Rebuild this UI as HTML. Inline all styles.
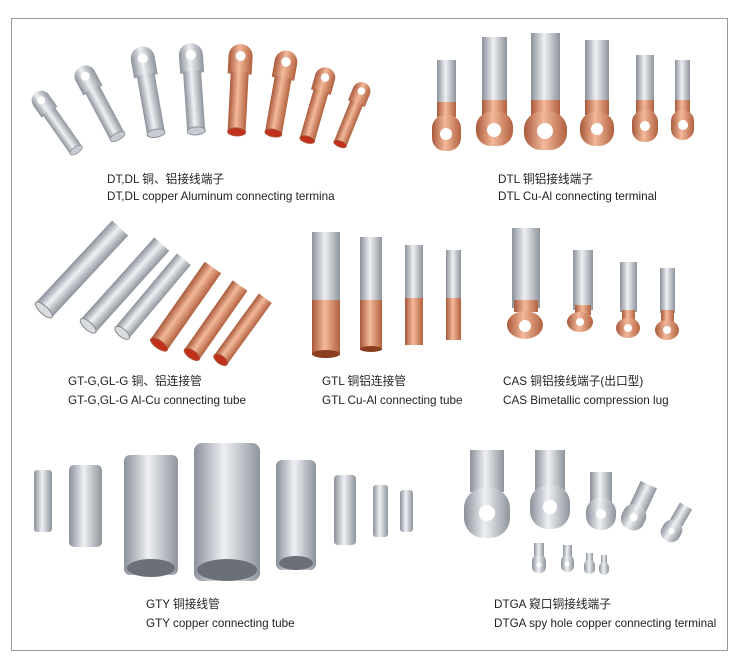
<!DOCTYPE html>
<html><head><meta charset="utf-8"><style>
html,body{margin:0;padding:0;background:#fff;width:739px;height:669px;overflow:hidden}
.t{position:absolute;font-family:"Liberation Sans","Noto Sans CJK SC",sans-serif;font-size:11.7px;color:#222;white-space:nowrap;line-height:14px}
</style></head><body>
<svg width="739" height="669" style="position:absolute;left:0;top:0">
<defs>
<linearGradient id="al" x1="0" x2="1" y1="0" y2="0"><stop offset="0" stop-color="#8b909a"/><stop offset=".45" stop-color="#eef0f3"/><stop offset="1" stop-color="#8e949c"/></linearGradient>
<linearGradient id="cu" x1="0" x2="1" y1="0" y2="0"><stop offset="0" stop-color="#a8583a"/><stop offset=".45" stop-color="#f3b99a"/><stop offset="1" stop-color="#b2613f"/></linearGradient>
<linearGradient id="alv" x1="0" x2="0" y1="0" y2="1"><stop offset="0" stop-color="#8b909a"/><stop offset=".45" stop-color="#eef0f3"/><stop offset="1" stop-color="#8e949c"/></linearGradient>
<linearGradient id="cuv" x1="0" x2="0" y1="0" y2="1"><stop offset="0" stop-color="#a8583a"/><stop offset=".45" stop-color="#f3b99a"/><stop offset="1" stop-color="#b2613f"/></linearGradient>
<g id="lugA"><path d="M-12,-30 a12,12 0 0 1 24,0 v18 h-12 h-12z" fill="url(#al)"/><rect x="-9" y="-14" width="18" height="60" fill="url(#al)"/><ellipse cx="0" cy="46" rx="9" ry="4" fill="#c8ccd2" stroke="#8b909a"/><circle cx="0" cy="-30" r="5" fill="#fff"/></g>
<g id="lugC"><path d="M-12,-30 a12,12 0 0 1 24,0 v18 h-12 h-12z" fill="url(#cu)"/><rect x="-9" y="-14" width="18" height="60" fill="url(#cu)"/><ellipse cx="0" cy="46" rx="9" ry="4" fill="#c0301a" stroke="#a8583a"/><circle cx="0" cy="-30" r="5" fill="#fff"/></g>
</defs>
<rect x="11.5" y="18.5" width="716" height="632" fill="none" stroke="#999"/>
<!-- DT lugs -->
<g transform="translate(55,120) rotate(-35) scale(.8)"><use href="#lugA"/></g>
<g transform="translate(98,100) rotate(-28) scale(.9)"><use href="#lugA"/></g>
<g transform="translate(148,88) rotate(-10) scale(1)"><use href="#lugA"/></g>
<g transform="translate(193,85) rotate(-4) scale(1)"><use href="#lugA"/></g>
<g transform="translate(239,86) rotate(3) scale(1)"><use href="#lugC"/></g>
<g transform="translate(281,90) rotate(10) scale(.95)"><use href="#lugC"/></g>
<g transform="translate(318,102) rotate(16) scale(.85)"><use href="#lugC"/></g>
<g transform="translate(353,112) rotate(22) scale(.75)"><use href="#lugC"/></g>
<!-- DTL -->
<g>
<rect x="437" y="60" width="19" height="45" fill="url(#al)"/><rect x="437" y="102" width="19" height="15" fill="url(#cu)"/><rect x="432" y="115" width="29" height="36" rx="13" fill="url(#cu)"/><circle cx="446" cy="134" r="6" fill="#fff"/>
<rect x="482" y="37" width="25" height="65" fill="url(#al)"/><rect x="482" y="100" width="25" height="15" fill="url(#cu)"/><rect x="476" y="112" width="37" height="34" rx="15" fill="url(#cu)"/><circle cx="494" cy="130" r="7" fill="#fff"/>
<rect x="531" y="33" width="29" height="70" fill="url(#al)"/><rect x="531" y="100" width="29" height="15" fill="url(#cu)"/><rect x="524" y="112" width="43" height="38" rx="17" fill="url(#cu)"/><circle cx="545" cy="131" r="8" fill="#fff"/>
<rect x="585" y="40" width="24" height="62" fill="url(#al)"/><rect x="585" y="100" width="24" height="15" fill="url(#cu)"/><rect x="580" y="112" width="34" height="34" rx="15" fill="url(#cu)"/><circle cx="597" cy="129" r="6" fill="#fff"/>
<rect x="636" y="55" width="18" height="48" fill="url(#al)"/><rect x="636" y="100" width="18" height="14" fill="url(#cu)"/><rect x="632" y="110" width="26" height="32" rx="12" fill="url(#cu)"/><circle cx="645" cy="126" r="5" fill="#fff"/>
<rect x="675" y="60" width="15" height="44" fill="url(#al)"/><rect x="675" y="100" width="15" height="14" fill="url(#cu)"/><rect x="671" y="110" width="23" height="30" rx="11" fill="url(#cu)"/><circle cx="683" cy="125" r="5" fill="#fff"/>
</g>
<!-- GT-G tubes (upper-right to lower-left, open end lower-left) -->
<g transform="translate(82,269) rotate(-47)"><rect x="-56" y="-11" width="112" height="22" fill="url(#alv)"/><ellipse cx="-56" cy="0" rx="4" ry="11" fill="#d8dbe0" stroke="#888"/></g>
<g transform="translate(125,285) rotate(-48)"><rect x="-55" y="-10" width="110" height="20" fill="url(#alv)"/><ellipse cx="-55" cy="0" rx="4" ry="10" fill="#d8dbe0" stroke="#888"/></g>
<g transform="translate(153,296) rotate(-50)"><rect x="-48" y="-9" width="96" height="18" fill="url(#alv)"/><ellipse cx="-48" cy="0" rx="4" ry="9" fill="#d8dbe0" stroke="#888"/></g>
<g transform="translate(186,306) rotate(-55)"><rect x="-47" y="-10" width="94" height="20" fill="url(#cuv)"/><ellipse cx="-47" cy="0" rx="4" ry="10" fill="#c0301a" stroke="#a8583a"/></g>
<g transform="translate(216,320) rotate(-55)"><rect x="-42" y="-9" width="84" height="18" fill="url(#cuv)"/><ellipse cx="-42" cy="0" rx="4" ry="9" fill="#c0301a" stroke="#a8583a"/></g>
<g transform="translate(243,329) rotate(-54)"><rect x="-38" y="-8" width="76" height="16" fill="url(#cuv)"/><ellipse cx="-38" cy="0" rx="4" ry="8" fill="#c0301a" stroke="#a8583a"/></g>
<!-- GTL -->
<rect x="312" y="232" width="28" height="70" fill="url(#al)"/><rect x="312" y="300" width="28" height="55" fill="url(#cu)"/><ellipse cx="326" cy="354" rx="14" ry="4" fill="#8a4020"/>
<rect x="360" y="237" width="22" height="65" fill="url(#al)"/><rect x="360" y="300" width="22" height="50" fill="url(#cu)"/><ellipse cx="371" cy="349" rx="11" ry="3" fill="#8a4020"/>
<rect x="405" y="245" width="18" height="55" fill="url(#al)"/><rect x="405" y="298" width="18" height="47" fill="url(#cu)"/>
<rect x="446" y="250" width="15" height="50" fill="url(#al)"/><rect x="446" y="298" width="15" height="42" fill="url(#cu)"/>
<!-- CAS -->
<rect x="512" y="228" width="28" height="80" fill="url(#al)"/><rect x="514" y="300" width="24" height="12" fill="url(#cu)"/><ellipse cx="525" cy="325" rx="18" ry="14" fill="url(#cu)"/><circle cx="525" cy="326" r="6" fill="#fff"/>
<rect x="573" y="250" width="20" height="60" fill="url(#al)"/><rect x="575" y="305" width="16" height="10" fill="url(#cu)"/><ellipse cx="580" cy="322" rx="13" ry="10" fill="url(#cu)"/><circle cx="580" cy="322" r="4" fill="#fff"/>
<rect x="620" y="262" width="17" height="50" fill="url(#al)"/><rect x="622" y="310" width="13" height="10" fill="url(#cu)"/><ellipse cx="628" cy="328" rx="12" ry="10" fill="url(#cu)"/><circle cx="628" cy="328" r="4" fill="#fff"/>
<rect x="660" y="268" width="15" height="45" fill="url(#al)"/><rect x="661" y="310" width="13" height="12" fill="url(#cu)"/><ellipse cx="667" cy="330" rx="12" ry="10" fill="url(#cu)"/><circle cx="667" cy="330" r="4" fill="#fff"/>
<!-- GTY -->
<rect x="34" y="470" width="18" height="62" rx="3" fill="url(#al)"/>
<rect x="69" y="465" width="33" height="82" rx="5" fill="url(#al)"/>
<rect x="124" y="455" width="54" height="120" rx="6" fill="url(#al)"/><ellipse cx="151" cy="568" rx="24" ry="9" fill="#6a6f78"/>
<rect x="194" y="443" width="66" height="138" rx="8" fill="url(#al)"/><ellipse cx="227" cy="570" rx="30" ry="11" fill="#6a6f78"/>
<rect x="276" y="460" width="40" height="110" rx="6" fill="url(#al)"/><ellipse cx="296" cy="563" rx="17" ry="7" fill="#6a6f78"/>
<rect x="334" y="475" width="22" height="70" rx="4" fill="url(#al)"/>
<rect x="373" y="485" width="15" height="52" rx="3" fill="url(#al)"/>
<rect x="400" y="490" width="13" height="42" rx="3" fill="url(#al)"/>
<!-- DTGA -->
<rect x="470" y="450" width="34" height="42" fill="url(#al)"/><rect x="464" y="488" width="46" height="50" rx="20" fill="url(#al)"/><circle cx="487" cy="513" r="8" fill="#fff"/>
<rect x="535" y="450" width="30" height="40" fill="url(#al)"/><rect x="530" y="485" width="40" height="44" rx="18" fill="url(#al)"/><circle cx="550" cy="507" r="7" fill="#fff"/>
<rect x="590" y="472" width="22" height="30" fill="url(#al)"/><rect x="586" y="498" width="30" height="32" rx="14" fill="url(#al)"/><circle cx="601" cy="514" r="5" fill="#fff"/>
<g transform="translate(637,510) rotate(25)"><rect x="-9" y="-28" width="18" height="26" fill="url(#al)"/><rect x="-12" y="-5" width="24" height="26" rx="11" fill="url(#al)"/><circle cx="0" cy="8" r="4" fill="#fff"/></g>
<g transform="translate(675,525) rotate(30)"><rect x="-7" y="-22" width="14" height="20" fill="url(#al)"/><rect x="-10" y="-4" width="20" height="22" rx="9" fill="url(#al)"/><circle cx="0" cy="7" r="3" fill="#fff"/></g>
<rect x="534" y="543" width="10" height="14" fill="url(#al)"/><rect x="532" y="555" width="14" height="18" rx="6" fill="url(#al)"/><circle cx="539" cy="565" r="2.5" fill="#fff"/>
<rect x="563" y="545" width="9" height="12" fill="url(#al)"/><rect x="561" y="555" width="13" height="17" rx="6" fill="url(#al)"/><circle cx="567" cy="564" r="2.5" fill="#fff"/>
<rect x="586" y="553" width="7" height="10" fill="url(#al)"/><rect x="584" y="560" width="11" height="14" rx="5" fill="url(#al)"/>
<rect x="601" y="555" width="6" height="9" fill="url(#al)"/><rect x="599" y="562" width="10" height="13" rx="5" fill="url(#al)"/>
</svg>
<div class="t" style="left:107px;top:173px">DT,DL 铜、铝接线端子</div>
<div class="t" style="left:107px;top:190px">DT,DL copper Aluminum connecting termina</div>
<div class="t" style="left:498px;top:173px">DTL 铜铝接线端子</div>
<div class="t" style="left:498px;top:190px">DTL Cu-Al connecting terminal</div>
<div class="t" style="left:68px;top:375px">GT-G,GL-G 铜、铝连接管</div>
<div class="t" style="left:68px;top:394px">GT-G,GL-G Al-Cu connecting tube</div>
<div class="t" style="left:322px;top:375px">GTL 铜铝连接管</div>
<div class="t" style="left:322px;top:394px">GTL Cu-Al connecting tube</div>
<div class="t" style="left:503px;top:375px">CAS 铜铝接线端子(出口型)</div>
<div class="t" style="left:503px;top:394px">CAS Bimetallic compression lug</div>
<div class="t" style="left:146px;top:598px">GTY 铜接线管</div>
<div class="t" style="left:146px;top:617px">GTY copper connecting tube</div>
<div class="t" style="left:494px;top:598px">DTGA 窥口铜接线端子</div>
<div class="t" style="left:494px;top:617px">DTGA spy hole copper connecting terminal</div>
</body></html>
